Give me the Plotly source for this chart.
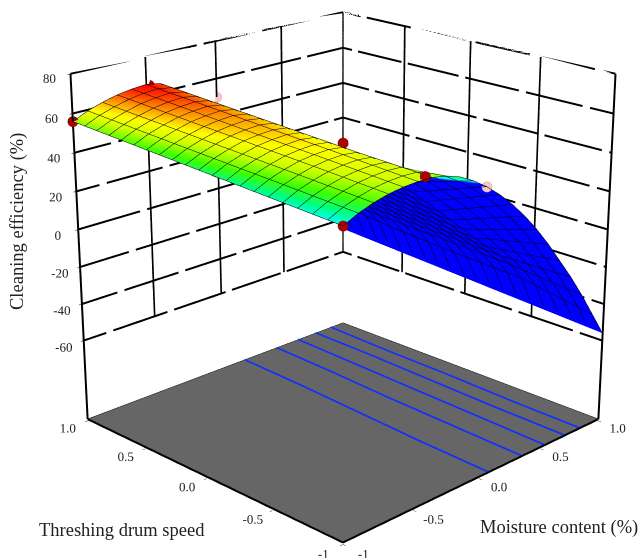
import plotly.graph_objects as go

moisture = [-1.0,-0.9,-0.8,-0.7,-0.6,-0.5,-0.4,-0.3,-0.2,-0.1,0.0,0.1,0.2,0.3,0.4,0.5,0.6,0.7,0.8,0.9,1.0]
speed = [-1.0,-0.5,0.0,0.5,1.0]
efficiency = [
 [48.0,51.5,54.0,55.8,56.8,57.2,57.0,55.5,53.0,49.0,44.0,38.0,31.0,23.0,14.0,4.0,-7.0,-18.0,-30.0,-43.0,-56.0],
 [50.0,53.6,56.1,58.0,59.0,59.4,58.5,51.5,44.5,37.5,30.5,23.5,16.5,9.5,2.5,-4.5,-11.5,-18.5,-26.0,-36.0,-53.5],
 [52.0,55.5,58.0,60.0,61.0,61.5,60.5,53.5,46.5,39.5,32.5,25.5,18.5,11.5,4.5,-2.5,-9.5,-16.5,-24.0,-34.0,-51.0],
 [54.0,57.5,60.0,62.0,63.1,63.7,62.5,55.5,48.5,41.5,34.5,27.5,20.5,13.5,6.5,-0.5,-7.5,-14.5,-22.0,-31.0,-48.5],
 [56.0,59.5,62.0,64.0,65.2,65.8,64.5,57.5,50.5,43.5,36.5,29.5,22.5,15.5,8.5,1.5,-5.5,-12.5,-19.5,-27.0,-46.0],
]
floor_level = -104.0

contour_speed = [-1.0,-0.5,0.0,0.5,1.0]
contour_moisture = [
 [0.07,0.09,0.12,0.15,0.17],
 [0.34,0.36,0.38,0.41,0.43],
 [0.53,0.55,0.57,0.59,0.61],
 [0.70,0.71,0.73,0.75,0.76],
 [0.83,0.84,0.86,0.87,0.89],
]

red_m = [-1.0,-0.48,-1.0,-0.45,0.0]
red_s = [1.0,1.0,-1.0,-1.0,0.0]
red_z = [56.0,65.0,48.0,58.5,45.0]
pink_m = [-0.85,0.0,0.0]
pink_s = [0.05,1.0,-1.0]
pink_z = [47.0,50.0,44.0]

z_ticks = [-60,-40,-20,0,20,40,60,80]
xy_ticks = [-1,-0.5,0,0.5,1]
xy_labels = ["-1","-0.5","0.0","0.5","1.0"]
z_range = [-105,80]
rule_gaps = [-0.82,-0.38,0.06,0.5,0.9]

band_values = [46,48,51,54,57.5,60,63,66]
band_colors = ["#0000ff","#00ffff","#00ff80","#40ff00","#d0ff00","#ffff00","#ff9000","#ff0000"]
cmin, cmax = -60, 66
colorscale = [[0,"#0000ff"]] + [[(v-cmin)/(cmax-cmin),c] for v,c in zip(band_values,band_colors)]

FONT = "Liberation Serif"
TXT = "#222222"
SIZE = 1604
OFF_X, OFF_Y = 459, 549
flat = dict(ambient=1,diffuse=0,specular=0,roughness=1,fresnel=0)
fig = go.Figure()
fig.add_trace(go.Surface(x=[-1,1],y=[-1,1],z=[[floor_level,floor_level],[floor_level,floor_level]],
    surfacecolor=[[0,0],[0,0]],colorscale=[[0,"#666666"],[1,"#666666"]],showscale=False,hoverinfo="skip",lighting=flat))
fig.add_trace(go.Surface(x=moisture,y=speed,z=efficiency,surfacecolor=efficiency,colorscale=colorscale,
    cmin=cmin,cmax=cmax,showscale=False,lighting=flat,
    contours=dict(x=dict(show=True,start=-1,end=1,size=0.1,color="#000000",width=1),
                  y=dict(show=True,start=-1,end=1,size=0.1,color="#000000",width=1))))

def rule(xs,ys,zs,width=4):
    fig.add_trace(go.Scatter3d(x=xs,y=ys,z=zs,mode="lines",line=dict(color="#000000",width=width),
        showlegend=False,hoverinfo="skip",connectgaps=False))

def broken(shift):
    """Positions along a wall rule with the small breaks the reference shows."""
    out = [-1.0]
    for g in rule_gaps:
        c = g + shift
        if -0.97 < c < 0.97:
            out += [c-0.025,None,c+0.025]
    return out + [1.0]

lo,hi = xy_ticks[0],xy_ticks[-1]
ztop,zlow = z_ticks[-1],z_ticks[0]
for i,v in enumerate(z_ticks):
    pos = broken(0.09*(i%4))
    rule(pos,[hi]*len(pos),[None if p is None else v for p in pos])
    pos = broken(-0.07*(i%3))
    rule([hi]*len(pos),pos,[None if p is None else v for p in pos])
for t in xy_ticks[1:-1]:
    rule([t,t],[hi,hi],[zlow,ztop])
    rule([hi,hi],[t,t],[zlow,ztop])
rule([hi,hi],[hi,hi],[zlow,ztop])
rule([lo,lo],[hi,hi],[floor_level,ztop])
rule([hi,hi],[lo,lo],[floor_level,ztop])
rule([lo,lo,hi],[hi,lo,lo],[floor_level]*3)
rule([lo,hi,hi],[hi,hi,lo],[floor_level]*3,width=1.5)

for row in contour_moisture:
    fig.add_trace(go.Scatter3d(x=row,y=contour_speed,z=[floor_level+0.3]*len(row),mode="lines",
        line=dict(color="#1030ff",width=4),showlegend=False))
fig.add_trace(go.Scatter3d(x=red_m,y=red_s,z=red_z,mode="markers",
    marker=dict(size=6,color="#b00000",line=dict(color="#700000",width=1)),showlegend=False))
fig.add_trace(go.Scatter3d(x=pink_m,y=pink_s,z=pink_z,mode="markers",
    marker=dict(size=6,color="#f5c8c8",line=dict(color="#e0a0a0",width=1)),showlegend=False))

def axis(vals,labels,rng):
    return dict(title=dict(text=""),range=rng,tickmode="array",tickvals=vals,ticktext=labels,tickangle=0,
        tickfont=dict(family=FONT,size=12.5,color=TXT),showbackground=True,backgroundcolor="#ffffff",
        showgrid=False,showline=False,zeroline=False,showspikes=False,ticks="outside",ticklen=3,tickcolor="#000000")

def paper(px,py):
    return (px+OFF_X)/SIZE, 1-(py+OFF_Y)/SIZE

titles = [("Threshing drum speed",122,530,0),("Moisture content (%)",559,527,0),("Cleaning efficiency (%)",17,222,-90)]
annotations = []
for text,px,py,ang in titles:
    ax,ay = paper(px,py)
    annotations.append(dict(text=text,x=ax,y=ay,xref="paper",yref="paper",showarrow=False,textangle=ang,
        xanchor="center",yanchor="middle",font=dict(family=FONT,size=18.5,color=TXT)))

k,h = 3.45,1.78
fig.update_layout(width=SIZE,height=SIZE,margin=dict(l=0,r=0,t=0,b=0),paper_bgcolor="#ffffff",showlegend=False,
    scene=dict(domain=dict(x=[0,1],y=[0,1]),aspectmode="manual",aspectratio=dict(x=1,y=1,z=0.99),
        xaxis=axis(xy_ticks,xy_labels,[-1,1]),
        yaxis=axis(xy_ticks,xy_labels,[-1,1]),
        zaxis=axis(z_ticks,[str(v) for v in z_ticks],z_range),
        camera=dict(up=dict(x=0,y=0,z=1),center=dict(x=0,y=0,z=0),eye=dict(x=-k,y=-k,z=h))),
    annotations=annotations)
post = ("var g=document.getElementById('{plot_id}');g.style.position='absolute';"
        "g.style.left='-%dpx';g.style.top='-%dpx';"
        "document.documentElement.style.overflow='hidden';document.body.style.overflow='hidden';" % (OFF_X,OFF_Y))
fig.write_html("out.html",post_script=post)
